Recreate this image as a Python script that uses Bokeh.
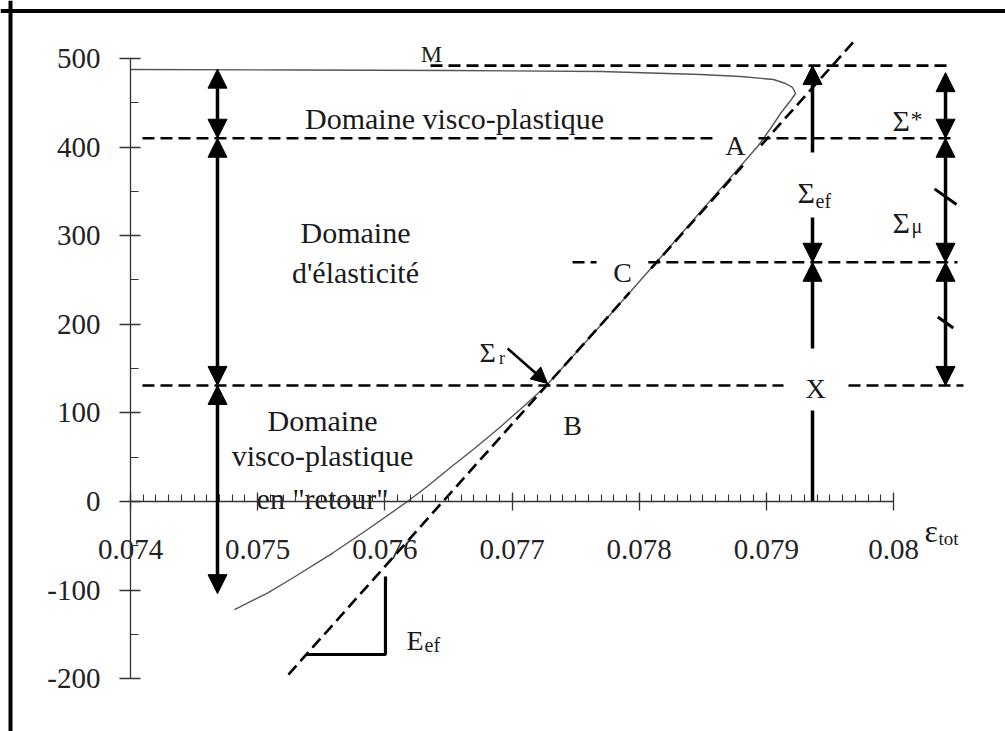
from bokeh.plotting import figure
from bokeh.models import (Range1d, LinearAxis, FixedTicker, CustomJSTickFormatter,
                          Arrow, NormalHead, ColumnDataSource, Span)
from bokeh.core.properties import value
from bokeh.embed import file_html
from bokeh.resources import INLINE

# ---------------- data ----------------
curve_eps = [0.074000, 0.075337, 0.076516, 0.077696, 0.078482, 0.078797, 0.079056,
             0.079151, 0.079206, 0.079230, 0.079191, 0.079111, 0.079033, 0.078938,
             0.078113, 0.077696, 0.077271, 0.077082, 0.076894, 0.076705, 0.076516,
             0.076343, 0.076178, 0.075864, 0.075596, 0.075282, 0.075077, 0.074818]
curve_sig = [487.6, 487.0, 486.5, 485.3, 482.0, 479.7, 476.3,
             471.8, 467.3, 460.5, 452.6, 437.9, 421.0, 401.8,
             266.4, 198.6, 130.9, 106.1, 82.4, 59.8, 38.4,
             18.1, 0.0, -31.6, -57.6, -85.8, -103.4, -121.9]

E_ef = 160700.0          # slope of the dashed elastic line
eps_zero = 0.076457      # strain where the elastic line crosses sigma = 0
line_pieces = [(-195.3, 236.0), (263.0, 379.0), (402.0, 522.6)]  # sigma spans of the dashed line

sig_M, sig_A, sig_C, sig_B = 492.0, 410.0, 270.0, 131.0
sig_top_curve = 488.0
sig_left_bottom = -104.0
eps_left, eps_mid, eps_right = 0.074684, 0.079363, 0.080409

# horizontal dashed levels (start, end, level)
lvl_x0 = [0.076359, 0.074094, 0.078938, 0.077476, 0.078072, 0.074094, 0.079646]
lvl_x1 = [0.080448, 0.078577, 0.080472, 0.077665, 0.080503, 0.079135, 0.080550]
lvl_y = [sig_M, sig_A, sig_A, sig_C, sig_C, sig_B, sig_B]

x_ticks = [0.074, 0.075, 0.076, 0.077, 0.078, 0.079, 0.080]
x_minor = [round(0.074 + 0.0001 * i, 5) for i in range(61)]
y_ticks = [-200, -100, 0, 100, 200, 300, 400, 500]
y_minor = [-150, -50, 50, 150, 250, 350, 450]

SERIF = "Liberation Serif"

p = figure(width=1005, height=731, output_backend="svg", toolbar_location=None,
           x_range=Range1d(0.0729777, 0.0808806), y_range=Range1d(-259.59, 565.46),
           x_axis_location=None, y_axis_location=None, min_border=0)
p.grid.visible = False
p.outline_line_color = None
p.background_fill_color = "white"

# ---------------- axes ----------------
xa = LinearAxis(fixed_location=0, bounds=(0.074, 0.080),
                ticker=FixedTicker(ticks=x_ticks, minor_ticks=x_minor),
                formatter=CustomJSTickFormatter(code="return Number(tick.toFixed(4)).toString();"))
xa.axis_line_color = "#333333"
xa.axis_line_width = 1.3
xa.major_tick_in = 9
xa.major_tick_out = 9
xa.major_tick_line_width = 1.3
xa.major_tick_line_color = "#333333"
xa.minor_tick_in = 7
xa.minor_tick_out = 0
xa.minor_tick_line_color = "#333333"
xa.minor_tick_line_width = 1.1
xa.major_label_standoff = 29
xa.major_label_text_font = SERIF
xa.major_label_text_font_size = "29px"
xa.major_label_text_color = "#222222"
p.add_layout(xa, "below")

ya = LinearAxis(fixed_location=0.074, bounds=(-200, 500),
                ticker=FixedTicker(ticks=y_ticks, minor_ticks=y_minor),
                formatter=CustomJSTickFormatter(code="return String(Math.round(tick));"))
ya.axis_line_color = "#333333"
ya.axis_line_width = 1.3
ya.major_tick_in = 10
ya.major_tick_out = 11
ya.major_tick_line_width = 1.3
ya.major_tick_line_color = "#333333"
ya.minor_tick_in = 8
ya.minor_tick_out = 0
ya.minor_tick_line_color = "#333333"
ya.minor_tick_line_width = 1.1
ya.major_label_standoff = 19
ya.major_label_text_font = SERIF
ya.major_label_text_font_size = "29px"
ya.major_label_text_color = "#222222"
p.add_layout(ya, "left")

# frame border (top and left visible)
p.add_layout(Span(location=0.0730564, dimension="height", line_color="black", line_width=4))
p.add_layout(Span(location=553.6, dimension="width", line_color="black", line_width=4))

# ---------------- curve ----------------
p.line(curve_eps, curve_sig, line_color="#555555", line_width=1.4)

# ---------------- elastic dashed line ----------------
ls0 = [a for a, b in line_pieces]
ls1 = [b for a, b in line_pieces]
p.segment(x0=[eps_zero + s / E_ef for s in ls0], y0=ls0,
          x1=[eps_zero + s / E_ef for s in ls1], y1=ls1,
          line_color="black", line_width=2.6, line_dash="12 6")

# horizontal levels
p.segment(x0=lvl_x0, y0=lvl_y, x1=lvl_x1, y1=lvl_y,
          line_color="black", line_width=2.6, line_dash="12 6")

# triangle for E_ef
tri_eps, tri_low, tri_top = 0.076005, -172.7, -84.6
p.line([eps_zero + tri_low / E_ef, tri_eps, tri_eps], [tri_low, tri_low, tri_top],
       line_color="black", line_width=3.2)

# ---------------- arrows ----------------
def head(sz=19):
    return NormalHead(size=sz, fill_color="black", line_color="black", line_width=1)

dbl = ColumnDataSource(dict(
    x0=[eps_left, eps_left, eps_left, eps_right, eps_right, eps_right],
    y0=[sig_top_curve, sig_A, sig_B, 484.0, sig_A, sig_C],
    x1=[eps_left, eps_left, eps_left, eps_right, eps_right, eps_right],
    y1=[sig_A, sig_B, sig_left_bottom, sig_A, sig_C, sig_B]))
p.add_layout(Arrow(start=head(), end=head(), x_start="x0", y_start="y0",
                   x_end="x1", y_end="y1", source=dbl, line_width=3.5, line_color="black"))

sgl = ColumnDataSource(dict(
    x0=[eps_mid, eps_mid, eps_mid],
    y0=[394.0, 320.5, 172.7],
    x1=[eps_mid, eps_mid, eps_mid],
    y1=[sig_M, sig_C, sig_C]))
p.add_layout(Arrow(end=head(), x_start="x0", y_start="y0", x_end="x1", y_end="y1",
                   source=sgl, line_width=3.5, line_color="black"))
p.segment(x0=[eps_mid], y0=[102.7], x1=[eps_mid], y1=[0.0], line_color="black", line_width=3.5)

# Sigma_r pointer
p.add_layout(Arrow(end=head(16), x_start=0.076965, y_start=172.7, x_end=0.077279, y_end=133.2,
                   line_width=2.6, line_color="black"))

# slash marks on the right arrows
p.scatter(x=[eps_right, eps_right], y=[344.0, 202.0], marker="dash", size=[27, 19],
          angle=-0.62, line_color="black", line_width=3)

# ---------------- texts ----------------
def txt(x, y, s, size, align="center", font=SERIF):
    p.text(x=[x], y=[y], text=[s], text_font=value(font), text_font_size=size,
           text_align=align, text_baseline="alphabetic", text_color="#1a1a1a")

txt(0.076367, 505.6, "M", "24px")
txt(0.076548, 432.3, "Domaine visco-plastique", "30px")
txt(0.075769, 303.6, "Domaine", "30px")
txt(0.075769, 258.5, "d'élasticité", "30px")
txt(0.075510, 91.4, "Domaine", "30px")
txt(0.075510, 51.9, "visco-plastique", "30px")
txt(0.075510, 3.4, "en \"retour\"", "30px")
txt(0.078757, 401.8, "A", "28px")
txt(0.077869, 258.5, "C", "28px")
txt(0.077476, 85.8, "B", "28px")
txt(0.079387, 127.5, "X", "28px")

txt(0.079245, 348.8, "Σ", "30px", "left")
txt(0.079387, 339.7, "ef", "20px", "left")
txt(0.079992, 430.0, "Σ", "30px", "left")
txt(0.080134, 432.0, "*", "24px", "left")
txt(0.079992, 314.9, "Σ", "30px", "left")
txt(0.080141, 311.5, "μ", "20px", "left")
txt(0.076744, 168.2, "Σ", "28px", "left")
txt(0.076897, 161.4, "r", "18px", "left")
txt(0.076170, -156.9, "E", "28px", "left")
txt(0.076312, -162.5, "ef", "20px", "left")
txt(0.080244, -33.0, "ε", "32px", "left")
txt(0.080354, -41.5, "tot", "19px", "left")

open("out.html", "w").write(file_html(p, INLINE))
